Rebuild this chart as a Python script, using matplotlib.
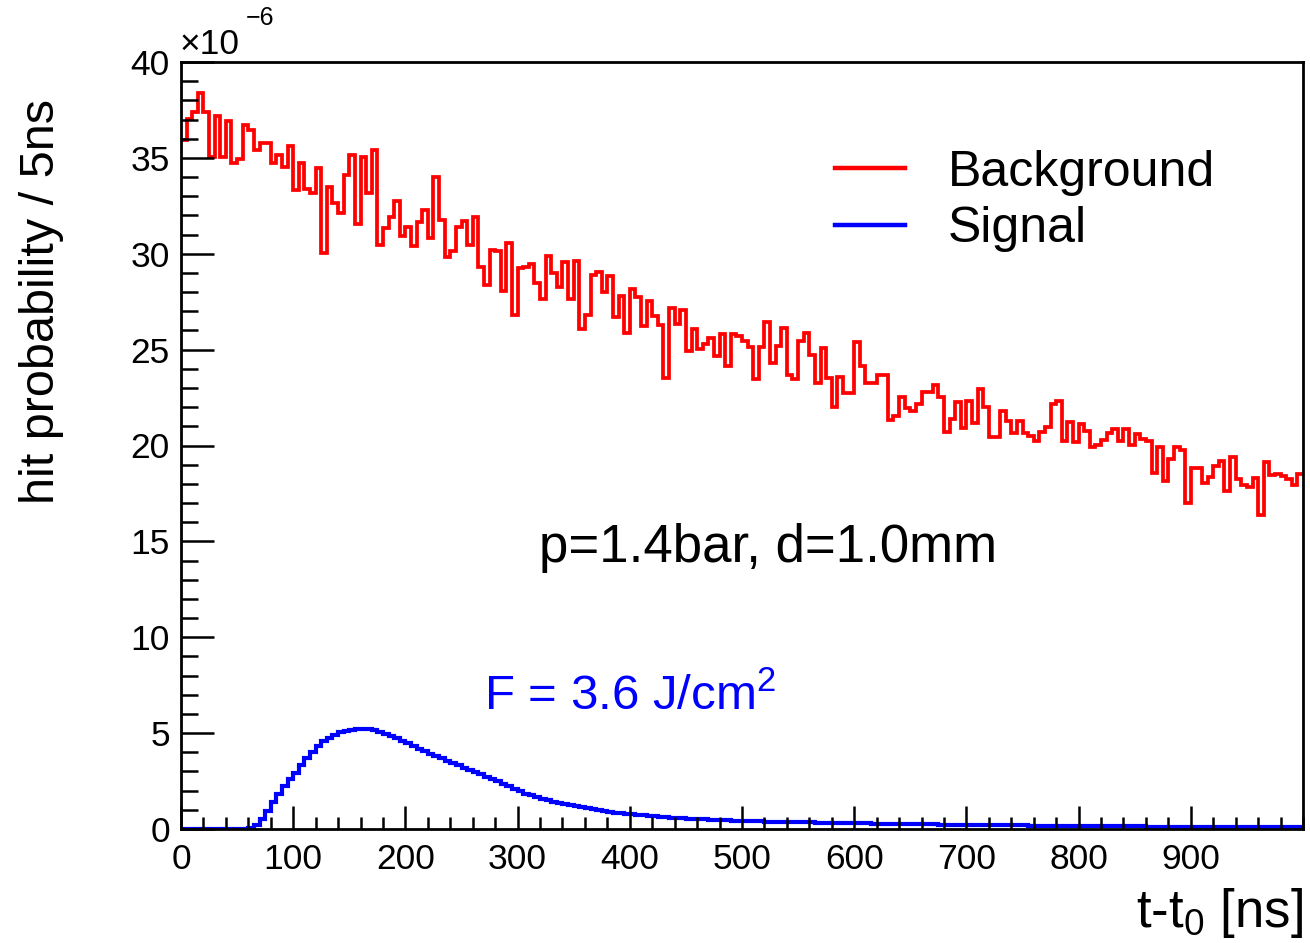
import numpy as np
import matplotlib
matplotlib.use("Agg")
import matplotlib.pyplot as plt
from matplotlib.ticker import MultipleLocator

plt.rcParams['font.family'] = ['Liberation Sans', 'DejaVu Sans']
plt.rcParams['mathtext.fontset'] = 'custom'
plt.rcParams['mathtext.rm'] = 'Liberation Sans'
plt.rcParams['mathtext.default'] = 'regular'

# 5 ns bins from 0 to 1000 ns, hit probability in units of 1e-6
bin_width = 5
background = [
    35.93, 37.01, 37.41, 38.40, 37.41, 35.06, 37.18, 35.06, 36.94, 34.75,
    34.92, 36.71, 36.45, 35.41, 35.76, 35.79, 34.72, 35.15, 34.51, 35.64,
    33.32, 34.72, 33.36, 33.19, 34.46, 30.02, 33.46, 32.66, 32.14, 34.11,
    35.15, 31.55, 35.06, 33.17, 35.41, 30.46, 31.33, 31.93, 32.77, 30.95,
    31.38, 30.40, 31.64, 32.29, 30.83, 33.98, 31.78, 29.83, 30.16, 31.37,
    31.72, 30.46, 31.93, 29.32, 28.37, 30.20, 30.14, 28.07, 30.58, 26.81,
    29.24, 29.32, 29.47, 28.49, 27.64, 29.88, 29.01, 28.28, 29.59, 27.64,
    29.64, 26.06, 26.81, 28.89, 29.06, 28.02, 28.84, 26.72, 27.80, 25.88,
    28.15, 27.72, 26.25, 27.52, 26.74, 26.27, 23.50, 27.19, 26.36, 27.05,
    24.95, 26.06, 25.02, 25.29, 25.59, 24.67, 25.81, 24.15, 25.81, 25.71,
    25.47, 25.15, 23.45, 25.12, 26.46, 24.32, 25.19, 26.11, 23.68, 23.45,
    25.47, 25.88, 24.72, 23.28, 25.07, 23.50, 22.03, 23.56, 22.76, 22.72,
    25.41, 24.15, 23.25, 23.25, 23.68, 23.68, 21.33, 21.54, 22.51, 21.94,
    21.82, 22.16, 22.81, 22.81, 23.15, 22.51, 20.72, 21.36, 22.29, 20.89,
    22.34, 21.16, 22.93, 21.99, 20.43, 20.43, 21.82, 21.30, 20.63, 21.30,
    20.63, 20.50, 20.25, 20.72, 20.95, 22.16, 22.34, 20.25, 21.24, 20.20,
    21.12, 20.77, 19.90, 20.05, 20.27, 20.67, 20.84, 20.25, 20.84, 20.03,
    20.60, 20.32, 20.25, 18.55, 19.90, 18.17, 19.28, 19.90, 19.77, 16.98,
    18.81, 18.81, 18.06, 18.34, 18.93, 19.21, 17.64, 19.42, 18.24, 17.94,
    17.85, 18.29, 16.38, 19.16, 18.46, 18.51, 18.41, 18.24, 17.94, 18.51,
]
signal = [
    0, 0, 0, 0, 0, 0, 0, 0, 0, 0,
    0, 0, 0.05, 0.19, 0.50, 0.94, 1.43, 1.83, 2.24, 2.59,
    2.94, 3.34, 3.72, 4.03, 4.33, 4.57, 4.76, 4.92, 5.04, 5.13,
    5.18, 5.22, 5.22, 5.20, 5.15, 5.08, 4.97, 4.85, 4.73, 4.59,
    4.47, 4.33, 4.19, 4.07, 3.93, 3.81, 3.69, 3.56, 3.44, 3.32,
    3.18, 3.06, 2.96, 2.85, 2.73, 2.61, 2.48, 2.35, 2.22, 2.09,
    1.96, 1.85, 1.75, 1.66, 1.58, 1.50, 1.43, 1.36, 1.29, 1.23,
    1.18, 1.13, 1.07, 1.02, 0.97, 0.93, 0.89, 0.85, 0.82, 0.78,
    0.76, 0.73, 0.71, 0.68, 0.66, 0.63, 0.61, 0.59, 0.57, 0.56,
    0.54, 0.52, 0.51, 0.50, 0.48, 0.47, 0.46, 0.45, 0.44, 0.43,
    0.42, 0.42, 0.41, 0.40, 0.39, 0.38, 0.38, 0.37, 0.36, 0.36,
    0.35, 0.34, 0.34, 0.33, 0.33, 0.32, 0.32, 0.31, 0.31, 0.30,
    0.30, 0.29, 0.29, 0.28, 0.28, 0.27, 0.27, 0.27, 0.26, 0.26,
    0.25, 0.25, 0.25, 0.24, 0.24, 0.23, 0.23, 0.23, 0.22, 0.22,
    0.22, 0.21, 0.21, 0.21, 0.20, 0.20, 0.20, 0.19, 0.19, 0.19,
    0.19, 0.18, 0.18, 0.18, 0.17, 0.17, 0.17, 0.17, 0.16, 0.16,
    0.16, 0.16, 0.15, 0.15, 0.15, 0.15, 0.15, 0.14, 0.14, 0.14,
    0.14, 0.14, 0.13, 0.13, 0.13, 0.13, 0.13, 0.12, 0.12, 0.12,
    0.12, 0.12, 0.12, 0.11, 0.11, 0.11, 0.11, 0.11, 0.11, 0.10,
    0.10, 0.10, 0.10, 0.10, 0.10, 0.10, 0.09, 0.09, 0.09, 0.09,
]
xtick_labels = ['0', '100', '200', '300', '400', '500', '600', '700', '800', '900']

edges = np.arange(len(background) + 1) * bin_width

W, H = 1310, 943
fig = plt.figure(figsize=(W / 100, H / 100), dpi=100)
ax = fig.add_axes([181 / W, 1 - 829 / H, (1303 - 181) / W, (829 - 62) / H])

ax.stairs(background, edges, color='#ff0000', lw=2.7, baseline=None, label='Background')
ax.stairs(signal, edges, color='#0000ff', lw=3.0, baseline=None, label='Signal')

ax.set_xlim(0, 1000)
ax.set_ylim(0, 40)

ax.xaxis.set_major_locator(MultipleLocator(100))
ax.xaxis.set_minor_locator(MultipleLocator(20))
ax.yaxis.set_major_locator(MultipleLocator(5))
ax.yaxis.set_minor_locator(MultipleLocator(1))
ax.set_xticks(np.arange(0, 1000, 100))
ax.set_xticklabels(xtick_labels)

ax.tick_params(axis='both', which='both', direction='in', top=False, right=False,
               width=1.8, labelsize=25.5)
ax.tick_params(axis='x', which='major', length=16.5, pad=10)
ax.tick_params(axis='x', which='minor', length=8.5)
ax.tick_params(axis='y', which='major', length=24, pad=8)
ax.tick_params(axis='y', which='minor', length=12)
for sp in ax.spines.values():
    sp.set_linewidth(2.0)

fig.text(42 / W, 1 - 302 / H, 'hit probability / 5ns', rotation=90,
         ha='center', va='center', fontsize=35)
fig.text(1303 / W, 1 - 913 / H, 't-t$_0$ [ns]', ha='right', va='center', fontsize=38)
fig.text(180 / W, 1 - 45 / H, '\u00d710', ha='left', va='center', fontsize=25.5)
fig.text(246 / W, 1 - 18 / H, '\u22126', ha='left', va='center', fontsize=18)

fig.text(768 / W, 1 - 548 / H, 'p=1.4bar, d=1.0mm', ha='center', va='center', fontsize=38)
fig.text(630 / W, 1 - 697 / H, 'F = 3.6 J/cm$^2$', ha='center', va='center',
         fontsize=35.5, color='#0000ff')

leg = ax.legend(loc='center left', bbox_to_anchor=(835 / W, 1 - 201 / H),
                bbox_transform=fig.transFigure, frameon=False, fontsize=36,
                handlelength=1.4, handletextpad=0.86, labelspacing=0.21,
                borderpad=0, borderaxespad=0)
for line in leg.get_lines():
    line.set_linewidth(3.2)

fig.savefig('out.png', dpi=100)
